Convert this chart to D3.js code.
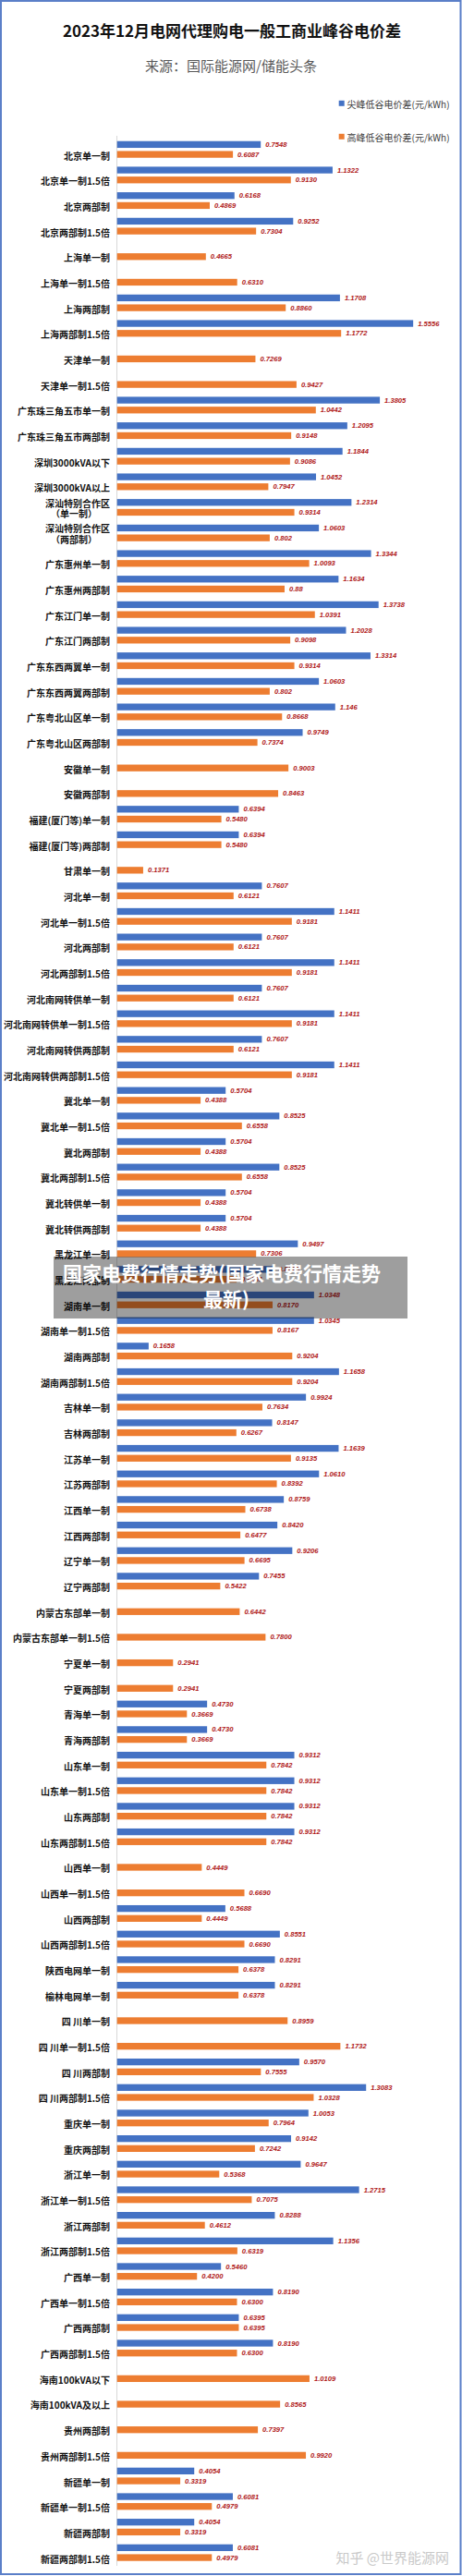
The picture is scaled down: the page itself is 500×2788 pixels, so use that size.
<!DOCTYPE html>
<html><head><meta charset="utf-8">
<script src="https://cdn.jsdelivr.net/npm/d3@7"></script>
<style>body{margin:0;background:#fff}</style>
</head><body>
<svg id="c" width="500" height="2788"></svg>
<script>
const categories=["北京单一制","北京单一制1.5倍","北京两部制","北京两部制1.5倍","上海单一制","上海单一制1.5倍","上海两部制","上海两部制1.5倍","天津单一制","天津单一制1.5倍","广东珠三角五市单一制","广东珠三角五市两部制","深圳3000kVA以下","深圳3000kVA以上","深汕特别合作区\n（单一制）","深汕特别合作区\n（两部制）","广东惠州单一制","广东惠州两部制","广东江门单一制","广东江门两部制","广东东西两翼单一制","广东东西两翼两部制","广东粤北山区单一制","广东粤北山区两部制","安徽单一制","安徽两部制","福建(厦门等)单一制","福建(厦门等)两部制","甘肃单一制","河北单一制","河北单一制1.5倍","河北两部制","河北两部制1.5倍","河北南网转供单一制","河北南网转供单一制1.5倍","河北南网转供两部制","河北南网转供两部制1.5倍","冀北单一制","冀北单一制1.5倍","冀北两部制","冀北两部制1.5倍","冀北转供单一制","冀北转供两部制","黑龙江单一制","黑龙江两部制","湖南单一制","湖南单一制1.5倍","湖南两部制","湖南两部制1.5倍","吉林单一制","吉林两部制","江苏单一制","江苏两部制","江西单一制","江西两部制","辽宁单一制","辽宁两部制","内蒙古东部单一制","内蒙古东部单一制1.5倍","宁夏单一制","宁夏两部制","青海单一制","青海两部制","山东单一制","山东单一制1.5倍","山东两部制","山东两部制1.5倍","山西单一制","山西单一制1.5倍","山西两部制","山西两部制1.5倍","陕西电网单一制","榆林电网单一制","四 川单一制","四 川单一制1.5倍","四 川两部制","四 川两部制1.5倍","重庆单一制","重庆两部制","浙江单一制","浙江单一制1.5倍","浙江两部制","浙江两部制1.5倍","广西单一制","广西单一制1.5倍","广西两部制","广西两部制1.5倍","海南100kVA以下","海南100kVA及以上","贵州两部制","贵州两部制1.5倍","新疆单一制","新疆单一制1.5倍","新疆两部制","新疆两部制1.5倍"];

// 尖峰低谷电价差 (null = no bar)
const peakValues=["0.7548","1.1322","0.6168","0.9252",null,null,"1.1708","1.5556",null,null,
"1.3805","1.2095","1.1844","1.0452","1.2314","1.0603","1.3344","1.1634","1.3738","1.2028",
"1.3314","1.0603","1.146","0.9749",null,null,"0.6394","0.6394",null,"0.7607",
"1.1411","0.7607","1.1411","0.7607","1.1411","0.7607","1.1411","0.5704","0.8525","0.5704",
"0.8525","0.5704","0.5704","0.9497","0.8225","1.0348","1.0345","0.1658","1.1658","0.9924",
"0.8147","1.1639","1.0610","0.8759","0.8420","0.9206","0.7455",null,null,null,
null,"0.4730","0.4730","0.9312","0.9312","0.9312","0.9312",null,null,"0.5688",
"0.8551","0.8291","0.8291",null,null,"0.9570","1.3083","1.0053","0.9142","0.9647",
"1.2715","0.8288","1.1356","0.5460","0.8190","0.6395","0.8190",null,null,null,
null,"0.4054","0.6081","0.4054","0.6081"];

// 高峰低谷电价差
const highValues=["0.6087","0.9130","0.4869","0.7304","0.4665","0.6310","0.8860","1.1772","0.7269","0.9427",
"1.0442","0.9148","0.9086","0.7947","0.9314","0.802","1.0093","0.88","1.0391","0.9098",
"0.9314","0.802","0.8668","0.7374","0.9003","0.8463","0.5480","0.5480","0.1371","0.6121",
"0.9181","0.6121","0.9181","0.6121","0.9181","0.6121","0.9181","0.4388","0.6558","0.4388",
"0.6558","0.4388","0.4388","0.7306","0.6281","0.8170","0.8167","0.9204","0.9204","0.7634",
"0.6267","0.9135","0.8392","0.6738","0.6477","0.6695","0.5422","0.6442","0.7800","0.2941",
"0.2941","0.3669","0.3669","0.7842","0.7842","0.7842","0.7842","0.4449","0.6690","0.4449",
"0.6690","0.6378","0.6378","0.8959","1.1732","0.7555","1.0328","0.7964","0.7242","0.5368",
"0.7075","0.4612","0.6319","0.4200","0.6300","0.6395","0.6300","1.0109","0.8565","0.7397",
"0.9920","0.3319","0.4979","0.3319","0.4979"];

const seriesNames=["尖峰低谷电价差(元/kWh)","高峰低谷电价差(元/kWh)"];
const titleText="2023年12月电网代理购电一般工商业峰谷电价差";
const subtitleText="来源：国际能源网/储能头条";
const overlayLines=["国家电费行情走势(国家电费行情走势","最新)"];
const creditText="知乎 @世界能源网";

const BLUE="#4472C4", ORANGE="#ED7D31", VAL="#B01818";
const svg=d3.select("#c");
svg.append("rect").attr("x",0).attr("y",0).attr("width",500).attr("height",2788).attr("fill","#fff");

const x=d3.scaleLinear().domain([0,1.6]).range([126.7,126.7+1.6*206]);
const y=d3.scaleBand().domain(categories).range([147.9,147.9+95*27.67]);

// title
svg.append("text").attr("x",251).attr("y",32).attr("text-anchor","middle").attr("dominant-baseline","central")
 .attr("font-family","'Noto Sans CJK SC',sans-serif").attr("font-weight","bold").attr("font-size",17).attr("fill","#111").text(titleText);
svg.append("text").attr("x",250).attr("y",70).attr("text-anchor","middle").attr("dominant-baseline","central")
 .attr("font-family","'Noto Sans CJK SC',sans-serif").attr("font-size",15).attr("fill","#595959").text(subtitleText);

// legend
const lg=svg.append("g");
[[BLUE,112],[ORANGE,148]].forEach((d,i)=>{
  lg.append("rect").attr("x",366.7).attr("y",d[1]-3.2).attr("width",6).attr("height",6).attr("fill",d[0]);
  lg.append("text").attr("x",375.5).attr("y",d[1]).attr("dominant-baseline","central")
   .attr("font-family","'Noto Sans CJK SC',sans-serif").attr("font-size",10).attr("fill","#404040").text(seriesNames[i]);
});

// axis line
svg.append("line").attr("x1",126.5).attr("x2",126.5).attr("y1",147).attr("y2",2777).attr("stroke","#D9D9D9").attr("stroke-width",1);

const rows=categories.map((c,i)=>({c,p:peakValues[i],h:highValues[i]}));
const g=svg.append("g");
const cy=d=>y(d.c)+y.bandwidth()/2;

g.selectAll(".pb").data(rows.filter(d=>d.p!==null)).join("rect")
 .attr("x",x(0)).attr("y",d=>cy(d)-9).attr("width",d=>x(+d.p)-x(0)).attr("height",7.3).attr("fill",BLUE);
g.selectAll(".hb").data(rows.filter(d=>d.h!==null)).join("rect")
 .attr("x",x(0)).attr("y",d=>cy(d)+1.7).attr("width",d=>x(+d.h)-x(0)).attr("height",7.3).attr("fill",ORANGE);

const vf=sel=>sel.attr("font-family","'Liberation Sans',Arial,sans-serif").attr("font-weight","bold").attr("font-style","italic")
 .attr("font-size",7.6).attr("fill",VAL).attr("dominant-baseline","central");
g.selectAll(".pl").data(rows.filter(d=>d.p!==null)).join("text")
 .attr("x",d=>x(+d.p)+5).attr("y",d=>cy(d)-5.3).text(d=>d.p).call(vf);
g.selectAll(".hl").data(rows.filter(d=>d.h!==null)).join("text")
 .attr("x",d=>x(+d.h)+5).attr("y",d=>cy(d)+5.4).text(d=>d.h).call(vf);

// category labels
const cf=sel=>sel.attr("font-family","'Noto Sans CJK SC',sans-serif").attr("font-weight","bold").attr("font-size",10).attr("fill","#111").attr("dominant-baseline","central");
rows.forEach(d=>{
  const parts=d.c.split("\n");
  if(parts.length===1){
    g.append("text").attr("x",119).attr("y",cy(d)+6.3).attr("text-anchor","end").text(parts[0]).call(cf);
  } else {
    const t1=g.append("text").attr("x",119).attr("y",cy(d)-5).attr("text-anchor","end").text(parts[0]).call(cf);
    const w=t1.node().getComputedTextLength();
    g.append("text").attr("x",119-w/2-4).attr("y",cy(d)+6.4).attr("text-anchor","middle").text(parts[1]).call(cf);
  }
});

// overlay watermark
svg.append("rect").attr("x",58).attr("y",1360).attr("width",383).attr("height",67).attr("fill","rgba(0,0,0,0.38)");
overlayLines.forEach((t,i)=>{
  svg.append("text").attr("x",i===0?240:245).attr("y",i===0?1377:1405).attr("text-anchor","middle").attr("dominant-baseline","central")
   .attr("font-family","'Noto Sans CJK SC',sans-serif").attr("font-weight","bold").attr("font-size",21).attr("fill","#fff").text(t);
});
svg.append("text").attr("x",486).attr("y",2767).attr("text-anchor","end").attr("dominant-baseline","central")
 .attr("font-family","'Noto Sans CJK SC',sans-serif").attr("font-size",15).attr("fill","#C9C9C9").text(creditText);

// frame
svg.append("rect").attr("x",1).attr("y",1).attr("width",497.5).attr("height",2785).attr("fill","none").attr("stroke","#5B7FC8").attr("stroke-width",2);
</script>
</body></html>
